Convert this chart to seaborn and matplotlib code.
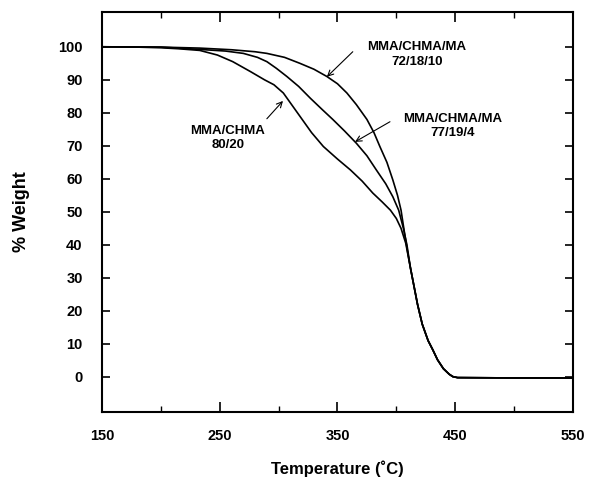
import numpy as np
import pandas as pd
import matplotlib
matplotlib.use("Agg")
import matplotlib.pyplot as plt
import seaborn as sns

# TGA curves (temperature in C, % weight)
t_8020 = [150, 180, 200, 215, 233, 248, 261, 276, 288, 296, 304, 311, 318, 328, 338, 350, 361, 371, 380, 388, 395, 400, 404, 408]
w_8020 = [100, 99.9, 99.7, 99.4, 98.9, 97.5, 95.5, 92.5, 90.0, 88.5, 86.0, 82.5, 79.0, 74.0, 69.8, 66.0, 62.7, 59.3, 55.7, 53.0, 50.5, 48.0, 45.0, 40.5]

t_77194 = [150, 200, 233, 255, 270, 282, 290, 298, 307, 317, 327, 337, 346, 356, 366, 375, 383, 391, 397, 402, 406, 409]
w_77194 = [100, 99.9, 99.2, 98.7, 98.0, 96.8, 95.5, 93.5, 91.0, 88.0, 84.4, 81.0, 78.0, 74.5, 70.8, 67.0, 62.7, 58.5, 54.6, 50.5, 45.0, 40.0]

t_721810 = [150, 200, 233, 260, 280, 290, 305, 318, 330, 341, 350, 358, 366, 375, 381, 386, 392, 397, 401, 404, 407, 410]
w_721810 = [100, 99.9, 99.6, 99.1, 98.5, 98.0, 96.8, 95.0, 93.2, 91.0, 88.8, 86.0, 82.5, 78.0, 74.0, 69.8, 65.0, 59.7, 55.0, 50.5, 43.5, 37.0]

# shared tail after the curves merge
t_tail = [412, 415, 418, 422, 427, 431, 435, 440, 445, 448, 452, 500, 550]
w_tail = [33.0, 27.5, 22.0, 16.0, 11.0, 8.2, 5.2, 2.5, 0.8, 0.1, -0.2, -0.3, -0.3]

samples = ["MMA/CHMA 80/20", "MMA/CHMA/MA 77/19/4", "MMA/CHMA/MA 72/18/10"]

frames = []
for name, t, w in zip(samples, [t_8020, t_77194, t_721810], [w_8020, w_77194, w_721810]):
    frames.append(pd.DataFrame({"T": t + t_tail, "W": w + w_tail, "sample": name}))
df = pd.concat(frames, ignore_index=True)

sns.set_style("ticks")
plt.rcParams["font.family"] = ["Liberation Sans", "DejaVu Sans"]
plt.rcParams["font.weight"] = "bold"
plt.rcParams["text.color"] = "black"
plt.rcParams["axes.labelcolor"] = "black"
plt.rcParams["xtick.color"] = "black"
plt.rcParams["ytick.color"] = "black"

fig = plt.figure(figsize=(5.9, 4.91), dpi=100)
ax = fig.add_axes([0.173, 0.161, 0.798, 0.815])

sns.lineplot(data=df, x="T", y="W", hue="sample", palette=["black"] * 3,
             sort=False, estimator=None, legend=False, linewidth=1.2, ax=ax)

ax.set_xlim(150, 550)
ax.set_ylim(-10.6, 110.6)
ax.set_xticks([150, 250, 350, 450, 550])
ax.set_xticks([200, 300, 400, 500], minor=True)
ax.set_yticks(np.arange(0, 101, 10))

for s in ax.spines.values():
    s.set_linewidth(1.5)
    s.set_color("black")

ax.tick_params(axis="x", which="major", direction="in", top=True, length=7, width=1.2,
               pad=12, labelsize=10.5)
ax.tick_params(axis="x", which="minor", direction="in", top=True, length=4, width=1.0)
ax.tick_params(axis="y", direction="in", right=True, length=6, width=1.2, pad=14, labelsize=10.5)
for lab in ax.get_xticklabels() + ax.get_yticklabels():
    lab.set_fontweight("bold")

ax.set_xlabel("Temperature (˚C)", fontsize=12, fontweight="bold", labelpad=13)
ax.set_ylabel("% Weight", fontsize=13, fontweight="bold", labelpad=20)

arrow = dict(arrowstyle="->", color="black", lw=0.8, shrinkA=0, shrinkB=0)
txt = dict(ha="center", va="center", fontsize=9.5, fontweight="bold", linespacing=1.25,
           color="black")

ax.annotate("", xy=(303.7, 83.6), xytext=(290, 78.2), arrowprops=arrow)
ax.text(257, 72.4, "MMA/CHMA\n80/20", **txt)

ax.annotate("", xy=(341, 90.9), xytext=(363, 98.5), arrowprops=arrow)
ax.text(417.5, 97.7, "MMA/CHMA/MA\n72/18/10", **txt)

ax.annotate("", xy=(364.9, 71.2), xytext=(394.6, 77.3), arrowprops=arrow)
ax.text(448, 76.0, "MMA/CHMA/MA\n77/19/4", **txt)

fig.savefig("out.png", dpi=100)
